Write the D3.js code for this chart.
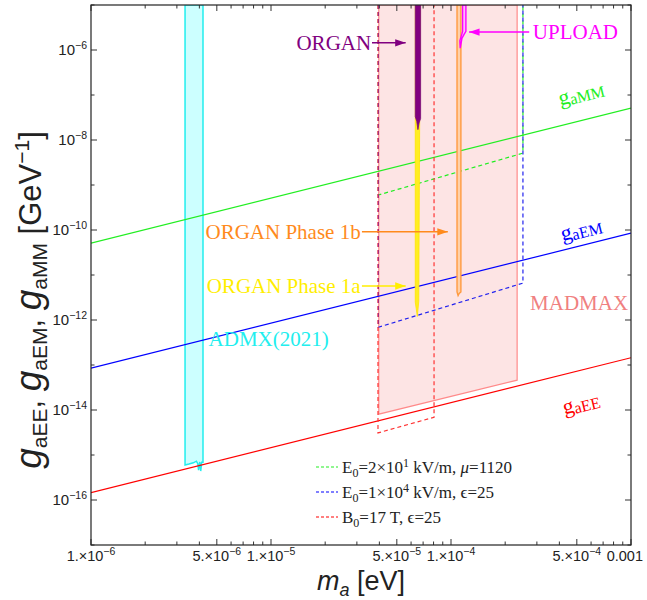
<!DOCTYPE html>
<html>
<head>
<meta charset="utf-8">
<script src="https://cdn.jsdelivr.net/npm/d3@7"></script>
<style>
  body { margin: 0; background: #fff; }
  svg { display: block; }
</style>
</head>
<body>
<svg id="chart" width="647" height="600"></svg>
<script>
// Coupling lines (log-log, straight): mass endpoints and coupling values
const lineMass = [1e-6, 1e-3];
const gaEE = [1.45e-16, 1.45e-13];
const gaEM = [8.5e-14, 8.5e-11];
const gaMM = [5.1e-11, 5.1e-8];

// Excluded regions / projections as [mass eV, coupling GeV^-1]
const admx = [[3.33e-6, 1e-5], [3.33e-6, 6.0e-16], [3.5e-6, 6.3e-16], [3.7e-6, 6.7e-16], [3.85e-6, 7.3e-16],
  [3.92e-6, 6.4e-16], [3.96e-6, 4.6e-16], [4.02e-6, 7.0e-16], [4.07e-6, 4.4e-16], [4.12e-6, 6.9e-16],
  [4.19e-6, 6.9e-16], [4.19e-6, 1e-5]];
const madmax = [[3.97e-5, 1e-5], [3.97e-5, 8.1e-15], [2.33e-4, 4.6e-14], [2.33e-4, 1e-5]];
const projB0 = [[3.93e-5, 1e-5], [3.93e-5, 3.1e-15], [8.05e-5, 6.9e-15], [8.05e-5, 1e-5]];
const projE4 = [[3.95e-5, 1e-5], [3.95e-5, 6.9e-13], [2.51e-4, 6.6e-12], [2.51e-4, 1e-5]];
const projE1 = [[3.95e-5, 1e-5], [3.95e-5, 6.0e-10], [2.51e-4, 5.1e-9], [2.51e-4, 1e-5]];
const organ1a = [[6.33e-5, 1e-5], [6.33e-5, 2.5e-12], [6.5e-5, 1.2e-12], [6.62e-5, 2.6e-12], [6.75e-5, 1e-5]];
const organ = [[6.33e-5, 1e-5], [6.33e-5, 3.3e-8], [6.45e-5, 2.6e-8], [6.55e-5, 1.7e-8], [6.65e-5, 2.4e-8],
  [6.78e-5, 3.0e-8], [6.78e-5, 1e-5]];
const organ1b = [[1.08e-4, 1e-5], [1.08e-4, 4.2e-12], [1.095e-4, 3.5e-12], [1.11e-4, 3.9e-12],
  [1.135e-4, 4.2e-12], [1.135e-4, 1e-5]];
const upload = [[1.16e-4, 1e-5], [1.16e-4, 2.6e-6], [1.12e-4, 1.6e-6], [1.125e-4, 1.1e-6], [1.15e-4, 1.8e-6],
  [1.18e-4, 2.2e-6], [1.21e-4, 2.6e-6], [1.21e-4, 1e-5]];

// Axis ticks
const xMajor = [1e-6, 5e-6, 1e-5, 5e-5, 1e-4, 5e-4, 1e-3];
const xLabels = [["1.\u00d710", "\u22126"], ["5.\u00d710", "\u22126"], ["1.\u00d710", "\u22125"], ["5.\u00d710", "\u22125"],
  ["1.\u00d710", "\u22124"], ["5.\u00d710", "\u22124"], ["0.001", null]];
const yMajorExp = [-6, -8, -10, -12, -14, -16];
const yMinorExp = [-5, -7, -9, -11, -13, -15, -17];

const legendItems = [
  {color: "#22ee22", parts: [["E"], ["0", "sub"], ["=2\u00d710"], ["1", "sup"], [" kV/m, "], ["\u03bc", "it"], ["=1120"]]},
  {color: "#0000ff", parts: [["E"], ["0", "sub"], ["=1\u00d710"], ["4", "sup"], [" kV/m, \u03f5=25"]]},
  {color: "#ff0000", parts: [["B"], ["0", "sub"], ["=17 T, \u03f5=25"]]}
];

const margin = {left: 91, top: 5, right: 16, bottom: 55};
const W = 647, H = 600;
const svg = d3.select("#chart");

const x = d3.scaleLog().domain([1e-6, 1e-3]).range([margin.left, W - margin.right]);
const y = d3.scaleLog().domain([1e-17, 1e-5]).range([H - margin.bottom, margin.top]);

svg.append("clipPath").attr("id", "clip")
  .append("rect")
  .attr("x", margin.left).attr("y", margin.top)
  .attr("width", x.range()[1] - margin.left).attr("height", y.range()[0] - margin.top);

// arrow markers
const defs = svg.append("defs");
[["purple", "#800080"], ["magenta", "#ff00ff"], ["orange", "#ff8a1c"], ["yellow", "#ffee00"]].forEach(([id, c]) => {
  defs.append("marker").attr("id", "arr-" + id)
    .attr("viewBox", "0 0 10 10").attr("refX", 10).attr("refY", 5)
    .attr("markerWidth", 7).attr("markerHeight", 7).attr("orient", "auto")
    .append("path").attr("d", "M0,1.5 L10,5 L0,8.5 Z").attr("fill", c);
});

const plot = svg.append("g").attr("clip-path", "url(#clip)");
const poly = d3.line().x(d => x(d[0])).y(d => y(d[1]));

// MADMAX
plot.append("path").attr("d", poly(madmax) + "Z")
  .attr("fill", "#fde4e4").attr("stroke", "#ff8a8a").attr("stroke-width", 1.2);

// ADMX
plot.append("path").attr("d", poly(admx) + "Z")
  .attr("fill", "#ccffff").attr("stroke", "#22eeee").attr("stroke-width", 1.5);

// coupling lines
[[gaEE, "#ff0000"], [gaEM, "#0000ff"], [gaMM, "#22ee22"]].forEach(([vals, c]) => {
  plot.append("path")
    .attr("d", poly(lineMass.map((m, i) => [m, vals[i]])))
    .attr("fill", "none").attr("stroke", c).attr("stroke-width", 1.2);
});

// dashed projections
[[projE1, "#22ee22"], [projE4, "#2222ee"], [projB0, "#ff3333"]].forEach(([pts, c]) => {
  plot.append("path").attr("d", poly(pts))
    .attr("fill", "none").attr("stroke", c).attr("stroke-width", 1.2)
    .attr("stroke-dasharray", "4,3");
});

// experiments
plot.append("path").attr("d", poly(organ1a) + "Z")
  .attr("fill", "#ffee22").attr("stroke", "#ffe600").attr("stroke-width", 0.8);
plot.append("path").attr("d", poly(organ) + "Z")
  .attr("fill", "#800080").attr("stroke", "#7a0a7a").attr("stroke-width", 0.8);
plot.append("path").attr("d", poly(organ1b) + "Z")
  .attr("fill", "#ffd0a8").attr("stroke", "#ff9a40").attr("stroke-width", 1.4);
plot.append("path").attr("d", poly(upload) + "Z")
  .attr("fill", "#ffb8ff").attr("stroke", "#ff00ff").attr("stroke-width", 1.4);

// annotations (anchor in data units)
const serif = "'Liberation Serif', 'Times New Roman', serif";
function arrow(m0, m1, g, id, color) {
  svg.append("line")
    .attr("x1", x(m0)).attr("x2", x(m1)).attr("y1", y(g)).attr("y2", y(g))
    .attr("stroke", color).attr("stroke-width", 1.5)
    .attr("marker-end", `url(#arr-${id})`);
}
function label(txt, m, g, color, anchor, dy) {
  return svg.append("text").attr("x", x(m)).attr("y", y(g)).attr("dy", dy)
    .attr("text-anchor", anchor).attr("fill", color)
    .style("font-family", serif).style("font-size", "21px").text(txt);
}
label("ORGAN", 3.6e-5, 1.44e-6, "#800080", "end", 7);
arrow(3.64e-5, 5.6e-5, 1.44e-6, "purple", "#800080");
label("UPLOAD", 2.85e-4, 2.5e-6, "#ff00ff", "start", 7);
arrow(2.72e-4, 1.26e-4, 2.5e-6, "magenta", "#ff00ff");
label("ORGAN Phase 1b", 3.15e-5, 9.1e-11, "#ff8a1c", "end", 7);
arrow(3.2e-5, 9.6e-5, 9.1e-11, "orange", "#ff8a1c");
label("ORGAN Phase 1a", 3.15e-5, 5.7e-12, "#ffee00", "end", 7);
arrow(3.2e-5, 5.6e-5, 5.7e-12, "yellow", "#ffee00");
label("ADMX(2021)", 4.5e-6, 2.6e-13, "#22eeee", "start", 0);
label("MADMAX", 2.75e-4, 1.7e-12, "#f08080", "start", 0);

const slopeAngle = -Math.atan((y(1e-10) - y(1e-9)) / (x(1e-4) - x(1e-5))) * 180 / Math.PI;
[["aMM", 5.4e-4, 7.8e-8, "#22ee22"], ["aEM", 5.4e-4, 7.4e-11, "#0000ff"], ["aEE", 5.4e-4, 1e-14, "#ff0000"]]
  .forEach(([sub, m, g, c]) => {
    const t = svg.append("text")
      .attr("transform", `translate(${x(m)},${y(g)}) rotate(${slopeAngle})`)
      .attr("text-anchor", "middle").attr("fill", c)
      .style("font-family", serif).style("font-size", "22px");
    t.append("tspan").text("g");
    t.append("tspan").attr("dy", 2).style("font-size", "16px").text(sub);
  });

// axes with inward ticks
const sans = "'Liberation Sans', Arial, sans-serif";
const xMinor = [];
for (let e = -6; e < -3; e++) for (let k = 2; k <= 9; k++) if (k !== 5) xMinor.push(k * Math.pow(10, e));
const yMajor = yMajorExp.map(e => Math.pow(10, e));
const yMinor = yMinorExp.map(e => Math.pow(10, e));

const x0 = margin.left, x1 = x.range()[1], y0 = y.range()[0], y1 = margin.top;
const axes = svg.append("g");
function ticks(vals, len, orient) {
  vals.forEach(v => {
    if (orient === "x") {
      axes.append("line").attr("x1", x(v)).attr("x2", x(v)).attr("y1", y0).attr("y2", y0 - len).attr("stroke", "#333");
      axes.append("line").attr("x1", x(v)).attr("x2", x(v)).attr("y1", y1).attr("y2", y1 + len).attr("stroke", "#333");
    } else {
      axes.append("line").attr("y1", y(v)).attr("y2", y(v)).attr("x1", x0).attr("x2", x0 + len).attr("stroke", "#333");
      axes.append("line").attr("y1", y(v)).attr("y2", y(v)).attr("x1", x1).attr("x2", x1 - len).attr("stroke", "#333");
    }
  });
}
ticks(xMajor, 6, "x");
ticks(xMinor, 3.5, "x");
ticks(yMajor, 6, "y");
ticks(yMinor, 3.5, "y");

axes.append("rect").attr("x", x0).attr("y", y1).attr("width", x1 - x0).attr("height", y0 - y1)
  .attr("fill", "none").attr("stroke", "#222").attr("stroke-width", 1.2);

xMajor.forEach((v, i) => {
  const [base, sup] = xLabels[i];
  const last = i === xMajor.length - 1;
  const t = axes.append("text").attr("x", x(v)).attr("y", y0 + 16)
    .attr("text-anchor", last ? "end" : "middle")
    .attr("dx", last ? 12 : 0)
    .style("font-family", sans).style("font-size", "14.5px").attr("fill", "#222");
  t.append("tspan").text(base);
  if (sup) t.append("tspan").attr("dy", -6).style("font-size", "10.5px").text(sup);
});
yMajor.forEach((v, i) => {
  const t = axes.append("text").attr("x", x0 - 4).attr("y", y(v) + 5)
    .attr("text-anchor", "end")
    .style("font-family", sans).style("font-size", "15px").attr("fill", "#222");
  t.append("tspan").text("10");
  t.append("tspan").attr("dy", -6).style("font-size", "10.5px").text("\u2212" + (-yMajorExp[i]));
});

// axis titles
const xt = svg.append("text").attr("x", (x0 + x1) / 2).attr("y", 590).attr("text-anchor", "middle")
  .style("font-family", sans).style("font-size", "27px").attr("fill", "#222");
xt.append("tspan").style("font-style", "italic").text("m");
xt.append("tspan").attr("dy", 6).style("font-size", "18px").style("font-style", "italic").text("a");
xt.append("tspan").attr("dy", -6).text(" [eV]");

const yt = svg.append("text").attr("transform", `translate(41,300) rotate(-90)`)
  .attr("text-anchor", "middle")
  .style("font-family", sans).style("font-size", "31px").attr("fill", "#222");
[["aEE", ", "], ["aEM", ", "], ["aMM", " [GeV"]].forEach(([sub, after]) => {
  yt.append("tspan").style("font-style", "italic").style("font-size", "37px").text("g");
  yt.append("tspan").attr("dy", 6).style("font-size", "21px").text(sub);
  yt.append("tspan").attr("dy", -6).text(after);
});
yt.append("tspan").attr("dy", -12).style("font-size", "21px").text("\u22121");
yt.append("tspan").attr("dy", 12).text("]");

// legend
legendItems.forEach((it, i) => {
  const ly = 467 + i * 25;
  svg.append("line").attr("x1", 316).attr("x2", 338).attr("y1", ly).attr("y2", ly)
    .attr("stroke", it.color).attr("stroke-width", 1.2).attr("stroke-dasharray", "3,2");
  const t = svg.append("text").attr("x", 342).attr("y", ly + 6)
    .style("font-family", serif).style("font-size", "17px").attr("fill", "#222");
  let shift = 0;
  it.parts.forEach(([s, kind]) => {
    const sp = t.append("tspan").text(s);
    let target = 0;
    if (kind === "sub") { target = 4; sp.style("font-size", "12px"); }
    if (kind === "sup") { target = -6; sp.style("font-size", "12px"); }
    if (kind === "it") sp.style("font-style", "italic");
    sp.attr("dy", target - shift);
    shift = target;
  });
});
</script>
</body>
</html>
